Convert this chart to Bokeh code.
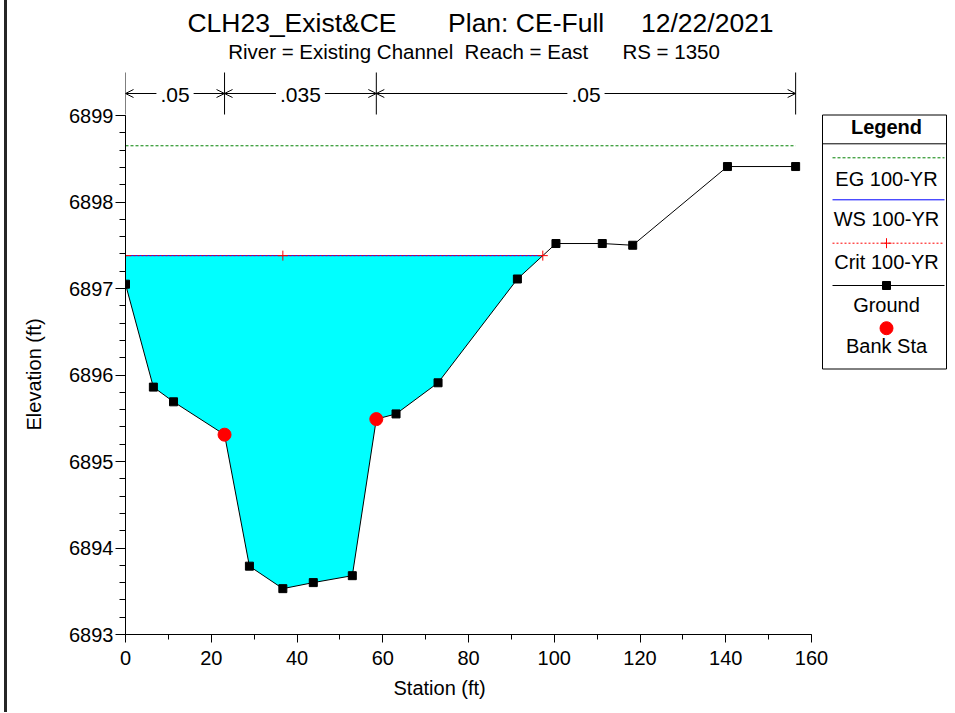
import numpy as np
from bokeh.plotting import figure
from bokeh.models import Range1d, Label, Arrow, OpenHead, SingleIntervalTicker, Title
from bokeh.embed import file_html
from bokeh.resources import INLINE

# ---------------- data ----------------
station = [0.0, 6.5, 11.2, 23.1, 28.9, 36.7, 43.8, 52.9, 58.5, 63.1, 72.9,
           91.4, 100.4, 111.2, 118.3, 140.4, 156.3]
elevation = [6897.05, 6895.86, 6895.69, 6895.31, 6893.79, 6893.53, 6893.60,
             6893.68, 6895.49, 6895.55, 6895.91, 6897.11, 6897.52, 6897.52,
             6897.50, 6898.41, 6898.41]
bank_sta = [23.1, 58.5]
ws_elev = 6897.38
crit_elev = 6897.38
eg_elev = 6898.65
n_values = [".05", ".035", ".05"]
n_breaks = [0.0, 23.1, 58.5, 156.3]
legend_labels = ["EG 100-YR", "WS 100-YR", "Crit 100-YR", "Ground", "Bank Sta"]
title_parts = ["CLH23_Exist&CE", "Plan: CE-Full", "12/22/2021"]
subtitle_parts = ["River = Existing Channel", "Reach = East", "RS = 1350"]
x_label = "Station (ft)"
y_label = "Elevation (ft)"

# ---------------- geometry (pixels) ----------------
W, H = 950, 712
BL = 125
FW = W - BL
FH = 634
BB = H - FH
SX = 686.0 / 160.0          # px per ft (station)
SY = 86.5                   # px per ft (elevation)
Y0 = 6893.0
XMAX = FW / SX
YMAX = Y0 + FH / SY


def px2x(px):
    return (px - BL) / SX


def py2y(py):
    return Y0 + (FH - py) / SY


def ly(b, fs):
    # label anchor for a wanted text baseline b (px) at font size fs
    return py2y(b - 0.4 * fs)


FONT = "Liberation Sans"

p = figure(width=W, height=H, x_range=Range1d(0, XMAX), y_range=Range1d(Y0, YMAX),
           output_backend="svg", toolbar_location=None, title=None,
           min_border_left=BL, min_border_right=0, min_border_top=0,
           min_border_bottom=BB)
# dark window edge on the left, seen through a transparent border area
p.styles = {"background": "linear-gradient(to right, #ffffff 0px, #ffffff 4px, "
                          "#262626 4px, #262626 7px, #ffffff 7px, #ffffff 100%)"}
p.border_fill_alpha = 0
p.xgrid.visible = False
p.ygrid.visible = False
p.outline_line_color = None
p.background_fill_color = "white"

# axes
p.xaxis.ticker = SingleIntervalTicker(interval=20, num_minor_ticks=2)
p.yaxis.ticker = SingleIntervalTicker(interval=1, num_minor_ticks=5)
p.xaxis.bounds = (0, 160)
p.yaxis.bounds = (6893, 6899)
for ax in (p.xaxis[0], p.yaxis[0]):
    ax.axis_line_color = "black"
    ax.major_tick_line_color = "black"
    ax.minor_tick_line_color = "black"
    ax.major_tick_in = 0
    ax.minor_tick_in = 0
    ax.major_label_text_font = FONT
    ax.major_label_text_font_size = "20px"
    ax.major_label_text_color = "black"
p.xaxis.major_tick_out = 8
p.xaxis.minor_tick_out = 5
p.xaxis.major_label_standoff = 8
p.yaxis.major_tick_out = 10
p.yaxis.minor_tick_out = 6
p.yaxis.major_label_standoff = 2

# axis titles placed along the labelled parts of the axes
ytitle = Title(text=y_label, align="left", offset=204, vertical_align="top",
               standoff=40, text_font=FONT, text_font_size="20px",
               text_font_style="normal", text_color="black")
p.add_layout(ytitle, "left")
xtitle = Title(text=x_label, align="left", offset=268, vertical_align="bottom",
               standoff=14, text_font=FONT, text_font_size="20px",
               text_font_style="normal", text_color="black")
p.add_layout(xtitle, "below")

# ---------------- computed water surface geometry ----------------
sta = np.array(station)
el = np.array(elevation)
thal = int(np.argmin(el))
j = thal + int(np.argmax(el[thal:] > ws_elev))
x_cross = sta[j - 1] + (ws_elev - el[j - 1]) * (sta[j] - sta[j - 1]) / (el[j] - el[j - 1])
poly_x = [sta[0]] + list(sta[:j]) + [x_cross]
poly_y = [ws_elev] + list(el[:j]) + [ws_elev]
bank_elev = list(np.interp(bank_sta, sta, el))

p.patch(poly_x, poly_y, fill_color="#00FFFF", line_color=None)
p.line([sta[0], sta[-1]], [eg_elev, eg_elev], line_color="#008000", line_width=1,
       line_dash="3 2")
p.line([sta[0], x_cross], [ws_elev, ws_elev], line_color="#0000FF", line_width=1)
p.line([sta[0], x_cross], [crit_elev, crit_elev], line_color="#FF0000", line_width=1,
       line_dash="2 2")
p.line(station, elevation, line_color="black", line_width=1)
p.scatter(station, elevation, marker="square", size=8, fill_color="black",
          line_color="black")
p.scatter([sta[0], sta[thal], x_cross], [crit_elev] * 3, marker="cross", size=10,
          line_color="#FF0000", line_width=1)
p.scatter(bank_sta, bank_elev, marker="circle", size=13, fill_color="#FF0000",
          line_color="#FF0000")

# ---------------- Manning's n markers ----------------
p.segment(x0=n_breaks, y0=[py2y(114)] * len(n_breaks), x1=n_breaks,
          y1=[py2y(72)] * len(n_breaks), line_color="black", line_width=1)
CW = {".": 0.278}
ya = py2y(93)
for i, t in enumerate(n_values):
    c = 0.5 * (n_breaks[i] + n_breaks[i + 1])
    em = sum(CW.get(ch, 0.556) for ch in t)
    g = (0.5 * em * 21 + 4) / SX
    p.add_layout(Label(x=c, y=ly(102.5, 21), text=t, text_align="center",
                       text_baseline="alphabetic", text_font=FONT,
                       text_font_size="21px", text_color="black"))
    for xs, xe in ((c - g, n_breaks[i]), (c + g, n_breaks[i + 1])):
        p.add_layout(Arrow(x_start=xs, y_start=ya, x_end=xe, y_end=ya,
                           line_color="black", line_width=1,
                           end=OpenHead(size=8, line_color="black", line_width=1)))

# ---------------- titles ----------------
NB = "\u00a0"
title = title_parts[0] + " " + NB * 6 + title_parts[1] + " " + NB * 4 + title_parts[2]
subtitle = subtitle_parts[0] + " " + NB + subtitle_parts[1] + " " + NB * 5 + subtitle_parts[2]
p.add_layout(Label(x=px2x(480), y=ly(33, 26.5), text=title, text_align="center",
                   text_baseline="alphabetic", text_font=FONT, text_font_size="26.5px",
                   text_color="black"))
p.add_layout(Label(x=px2x(473.5), y=ly(59.5, 20.5), text=subtitle, text_align="center",
                   text_baseline="alphabetic", text_font=FONT, text_font_size="20.5px",
                   text_color="black"))

# ---------------- legend ----------------
LL, LR, LT, LB = 822, 946, 114.5, 368.5
LC = 886
p.quad(left=[px2x(LL)], right=[px2x(LR)], top=[py2y(LT)], bottom=[py2y(LB)],
       fill_color="white", line_color="black", line_width=1)
p.line([px2x(LL), px2x(LR)], [py2y(143.3)] * 2, line_color="black", line_width=1)
p.add_layout(Label(x=px2x(LC), y=ly(134, 20), text="Legend", text_align="center",
                   text_baseline="alphabetic", text_font=FONT, text_font_size="20px",
                   text_font_style="bold", text_color="black"))
lx = [px2x(832), px2x(944)]
p.line(lx, [py2y(157.3)] * 2, line_color="#008000", line_dash="3 2")
p.line(lx, [py2y(199.3)] * 2, line_color="#0000FF")
p.line(lx, [py2y(242.7)] * 2, line_color="#FF0000", line_dash="2 2")
p.scatter([px2x(LC)], [py2y(242.7)], marker="cross", size=10, line_color="#FF0000")
p.line(lx, [py2y(285)] * 2, line_color="black")
p.scatter([px2x(LC)], [py2y(285)], marker="square", size=8, fill_color="black",
          line_color="black")
p.scatter([px2x(LC)], [py2y(327.7)], marker="circle", size=13, fill_color="#FF0000",
          line_color="#FF0000")
for t, b in zip(legend_labels, [186, 226, 269, 312, 353]):
    p.add_layout(Label(x=px2x(LC), y=ly(b, 20), text=t, text_align="center",
                       text_baseline="alphabetic", text_font=FONT,
                       text_font_size="20px", text_color="black"))

open("out.html", "w").write(file_html(p, INLINE))
